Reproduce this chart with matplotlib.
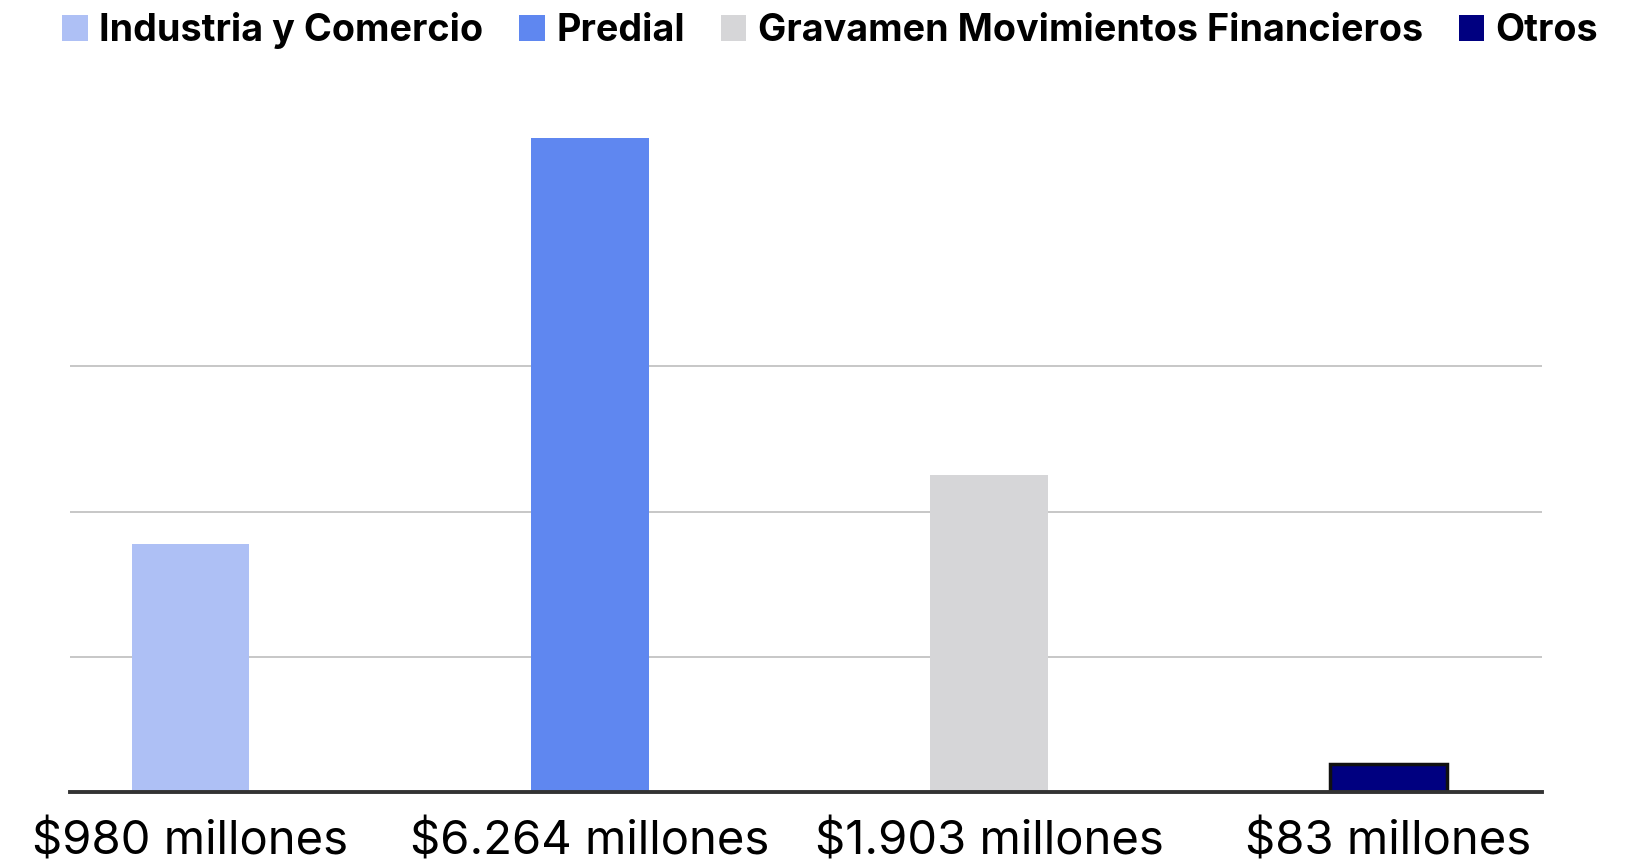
import matplotlib.pyplot as plt
from matplotlib.patches import Patch

# datos
categories = ["Industria y Comercio", "Predial", "Gravamen Movimientos Financieros", "Otros"]
tick_labels = ["$980 millones", "$6.264 millones", "$1.903 millones", "$83 millones"]
heights = [1.78, 4.56, 2.25, 0.27]  # alturas (escala de la cuadrícula)
colors = ["#aec0f5", "#5f87f0", "#d6d6d8", "#000080"]
edges = ["none", "none", "none", "#111111"]

plt.rcParams["font.family"] = ["Inter", "DejaVu Sans"]

fig = plt.figure(figsize=(16.29, 8.63), dpi=100)
ax = fig.add_axes([0.0427, 0.0827, 0.9038, 0.7773])

x = list(range(len(categories)))
ax.bar(x, heights, width=0.294, color=colors, edgecolor=edges,
       linewidth=2.5, zorder=3)

ax.set_xlim(-0.303, 3.384)
ax.set_ylim(0.08, 4.68)
ax.set_yticks([1, 2, 3])
ax.yaxis.grid(True, color="#bdbdbd", linewidth=1.2, zorder=0)
ax.tick_params(axis="y", left=False, labelleft=False)
ax.set_xticks(x)
ax.set_xticklabels(tick_labels, fontsize=34)
ax.tick_params(axis="x", bottom=False, pad=17)
for s in ["top", "right", "left"]:
    ax.spines[s].set_visible(False)
ax.spines["bottom"].set_color("#333333")
ax.spines["bottom"].set_linewidth(2.8)
ax.spines["bottom"].set_zorder(4)

handles = [Patch(facecolor=c, edgecolor="none") for c in colors]
leg = fig.legend(handles, categories, loc="upper center", bbox_to_anchor=(0.5096, 1.025),
                 ncol=4, frameon=False, fontsize=27.2, handlelength=0.68, handleheight=0.68,
                 handletextpad=0.3, columnspacing=0.95)
for t in leg.get_texts():
    t.set_fontweight("bold")

fig.savefig("out.png", dpi=100)
